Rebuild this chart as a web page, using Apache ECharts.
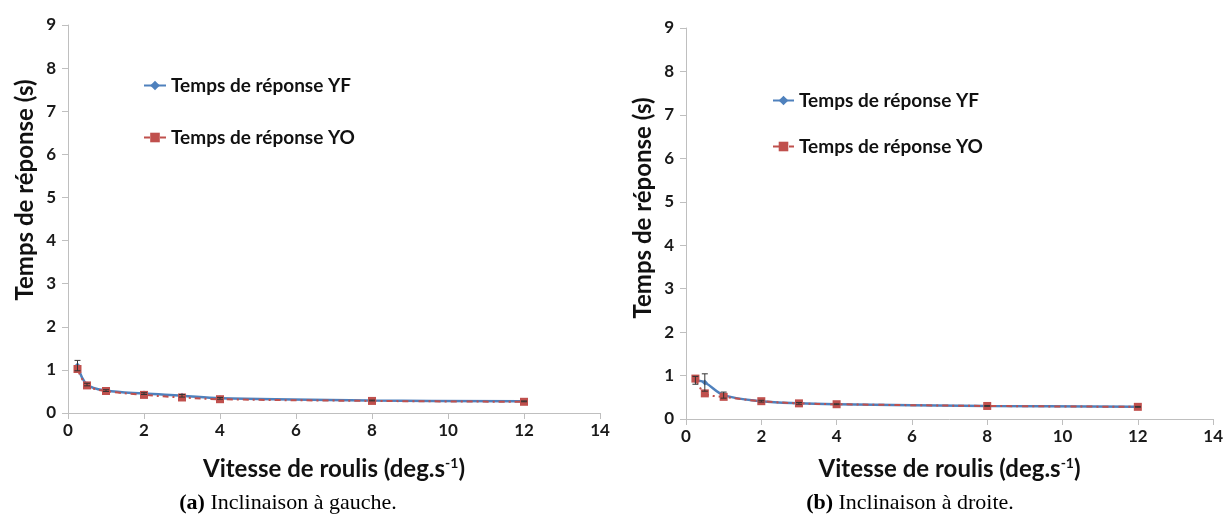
<!DOCTYPE html>
<html><head><meta charset="utf-8">
<script src="https://cdn.jsdelivr.net/npm/echarts@6/dist/echarts.min.js"></script>
<style>html,body{margin:0;padding:0;background:#fff}#c{width:1226px;height:518px}</style>
</head><body><div id="c"></div>
<script>
const xValues = [0.25, 0.5, 1, 2, 3, 4, 8, 12];
const leftYF = [1.10, 0.66, 0.52, 0.45, 0.40, 0.34, 0.29, 0.27];
const leftYO = [1.02, 0.64, 0.51, 0.42, 0.36, 0.32, 0.28, 0.26];
const leftYFerr = [0.12, 0.03, 0.02, 0.02, 0.03, 0.02, 0.01, 0.01];
const rightYF = [0.89, 0.84, 0.55, 0.41, 0.36, 0.34, 0.30, 0.28];
const rightYO = [0.93, 0.59, 0.51, 0.41, 0.36, 0.34, 0.30, 0.28];
const rightYFerr = [0.09, 0.20, 0.07, 0.02, 0.02, 0.01, 0.01, 0.01];
const nameYF = 'Temps de réponse YF';
const nameYO = 'Temps de réponse YO';
const yTitle = 'Temps de réponse (s)';
const captions = ['(a)', ' Inclinaison à gauche.', '(b)', ' Inclinaison à droite.'];

const font = 'Lato';
const pair = (ys) => xValues.map((x, i) => [x, ys[i]]);
const errData = (ys, es) => xValues.map((x, i) => [x, ys[i], es[i]]);

function errRender(params, api) {
  const x = api.value(0), y = api.value(1), e = api.value(2);
  const top = api.coord([x, y + e]);
  const bot = api.coord([x, y - e]);
  const s = {stroke: '#333', lineWidth: 1};
  return {type: 'group', children: [
    {type: 'line', shape: {x1: top[0], y1: top[1], x2: bot[0], y2: bot[1]}, style: s},
    {type: 'line', shape: {x1: top[0]-3, y1: top[1], x2: top[0]+3, y2: top[1]}, style: s},
    {type: 'line', shape: {x1: bot[0]-3, y1: bot[1], x2: bot[0]+3, y2: bot[1]}, style: s}
  ]};
}

const axisLine = {show: true, lineStyle: {color: '#BFBFBF', width: 1}};
const tickLabel = {fontFamily: font, fontWeight: 'bold', fontSize: 17, color: '#1a1a1a'};
function xAx(i, gap) {
  return {type: 'value', gridIndex: i, min: 0, max: 14, interval: 2,
    axisLine: axisLine, axisTick: {show: true, length: 6, lineStyle: {color: '#BFBFBF'}},
    axisLabel: Object.assign({margin: 9}, tickLabel), splitLine: {show: false},
    name: '{a|Vitesse de roulis (deg.s}{s|-1}{a|)}', nameLocation: 'middle', nameGap: gap,
    nameTextStyle: {rich: {
      a: {fontFamily: font, fontWeight: 'bold', fontSize: 24, color: '#111'},
      s: {fontFamily: font, fontWeight: 'bold', fontSize: 14, color: '#111', verticalAlign: 'top', padding: [0,0,12,0]}
    }}};
}
function yAx(i) {
  return {type: 'value', gridIndex: i, min: 0, max: 9, interval: 1,
    axisLine: axisLine, axisTick: {show: true, length: 6, lineStyle: {color: '#BFBFBF'}},
    axisLabel: Object.assign({margin: 12}, tickLabel), splitLine: {show: false}};
}
function lineYF(i, ys) {
  return {name: nameYF, type: 'line', xAxisIndex: i, yAxisIndex: i, data: pair(ys), smooth: 0.35,
    symbol: 'diamond', symbolSize: 6, z: 2,
    lineStyle: {color: '#4F81BD', width: 2.5}, itemStyle: {color: '#4F81BD'}};
}
function lineYO(i, ys) {
  return {name: nameYO, type: 'line', xAxisIndex: i, yAxisIndex: i, data: pair(ys), smooth: 0.35,
    symbol: 'rect', symbolSize: 8, z: 3,
    lineStyle: {color: '#C0504D', width: 2, type: [6, 4, 2, 4]}, itemStyle: {color: '#C0504D'}};
}
function errSeries(i, ys, es) {
  return {type: 'custom', xAxisIndex: i, yAxisIndex: i, data: errData(ys, es), renderItem: errRender, z: 4, silent: true};
}
const legendText = {fontFamily: font, fontWeight: 'bold', fontSize: 19, color: '#111'};
const serif = 'Liberation Serif';
const capRich = {b: {fontFamily: serif, fontWeight: 'bold', fontSize: 22, color: '#111'}, r: {fontFamily: serif, fontSize: 22, color: '#111'}};
const yTitleStyle = {text: yTitle, fontFamily: font, fontWeight: 'bold', fontSize: 24, fill: '#111', align: 'center', verticalAlign: 'middle'};

const chart = echarts.init(document.getElementById('c'), null, {renderer: 'canvas'});
chart.setOption({
  animation: false,
  backgroundColor: '#fff',
  grid: [
    {left: 68, right: 626, top: 25, bottom: 105},
    {left: 686, right: 11, top: 28, bottom: 99}
  ],
  xAxis: [xAx(0, 43), xAx(1, 37)],
  yAxis: [yAx(0), yAx(1)],
  legend: [
    {left: 138, top: 71, orient: 'vertical', itemWidth: 22, itemHeight: 12, itemGap: 33, textStyle: legendText, data: [nameYF, nameYO]},
    {left: 767, top: 86, orient: 'vertical', itemWidth: 21, itemHeight: 12, itemGap: 27, textStyle: legendText, data: [nameYF, nameYO]}
  ],
  series: [
    lineYF(0, leftYF), lineYO(0, leftYO), errSeries(0, leftYF, leftYFerr),
    lineYF(1, rightYF), lineYO(1, rightYO), errSeries(1, rightYF, rightYFerr)
  ],
  graphic: [
    {type: 'text', x: 25, y: 190, rotation: Math.PI / 2, silent: true, style: yTitleStyle},
    {type: 'text', x: 643, y: 208, rotation: Math.PI / 2, silent: true, style: yTitleStyle},
    {type: 'text', x: 288, y: 503, silent: true, style: {text: '{b|' + captions[0] + '}{r|' + captions[1] + '}', align: 'center', verticalAlign: 'middle', rich: capRich}},
    {type: 'text', x: 910, y: 503, silent: true, style: {text: '{b|' + captions[2] + '}{r|' + captions[3] + '}', align: 'center', verticalAlign: 'middle', rich: capRich}}
  ]
});
</script></body></html>
